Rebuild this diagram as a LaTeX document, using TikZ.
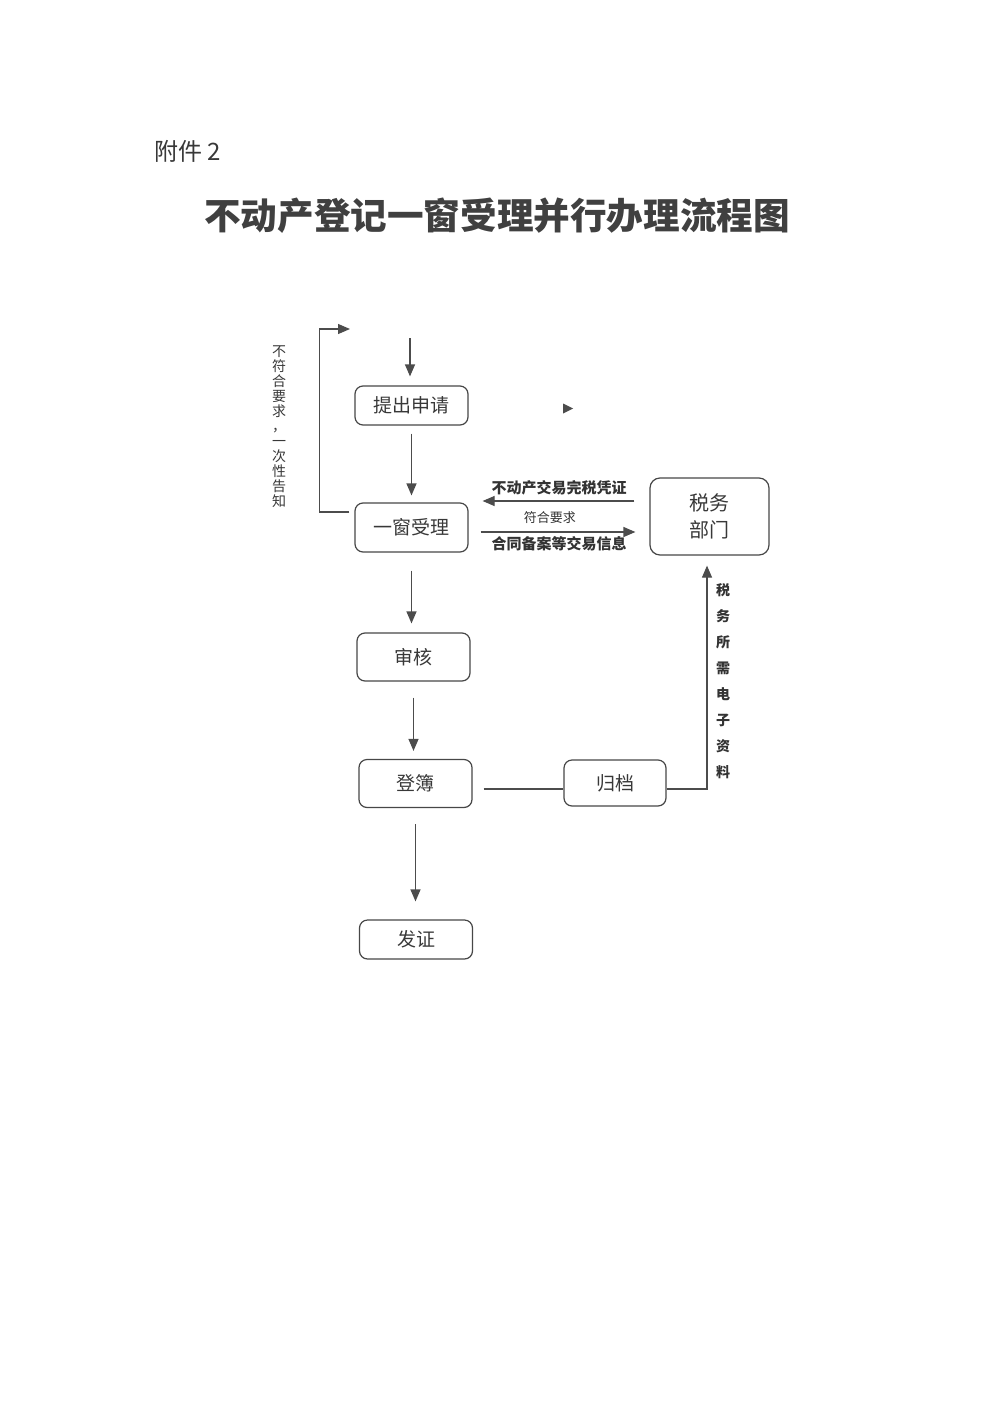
\documentclass[tikz,border=0pt]{standalone}
\usepackage{fontspec}
\newfontfamily\cjk{Noto Sans CJK SC}
\usetikzlibrary{positioning,arrows.meta}

\begin{document}
\begin{tikzpicture}[x=0.5pt,y=-0.5pt]
\tikzset{B/.style={draw=black!72,rounded corners=4pt,line width=0.6pt,text=black!78,font=\cjk\fontsize{9.5}{11}\selectfont,minimum width=56.5pt,minimum height=24pt,inner sep=0pt}}
\tikzset{A/.style={draw=black!70,line width=0.6pt,-{Triangle[length=6pt,width=5pt]}}}
\tikzset{L/.style={text=black!80,font=\cjk\bfseries\fontsize{7.5}{9}\selectfont,inner sep=1pt}}

 \useasboundingbox (0,0) rectangle (992,1402);

  \node[anchor=west,text=black!78,font=\cjk\fontsize{12}{14}\selectfont] (fj) at (147,151) {附件 2};
  \node[text=black!75,font=\cjk\bfseries\fontsize{18.3}{22}\selectfont] (tt) at (497,216) {不动产登记一窗受理并行办理流程图};

  \node[B,minimum height=19.5pt] (sq) at (411.5,405.5) {提出申请};
  \node[B,minimum height=24.5pt] (sl) at (411.5,527.5) {一窗受理};
  \node[B] (sh) at (413.5,657) {审核};
  \node[B] (db) at (415.5,783.5) {登簿};
  \node[B,minimum height=19.5pt] (fz) at (416,939.5) {发证};
  \node[B,minimum width=51pt,minimum height=23pt] (gd) at (615,783) {归档};
  \node[B,rounded corners=5pt,minimum width=59.5pt,minimum height=38.5pt,align=center,
        font=\cjk\fontsize{10}{13.5}\selectfont] (sw) at (709.5,516.5) {税务\\部门};

  \coordinate (c0) at (350,329);
  \coordinate (c1) at (410,338);

  % left loop
  \draw[A,shorten <=2.5pt] ([yshift=7.75pt]sl.west) -- ++(-35,0) |- (c0);
  \node[text=black!78,align=center,font=\cjk\fontsize{7}{7.5}\selectfont] (bf) at (279,427)
    {不\\符\\合\\要\\求\\，\\一\\次\\性\\告\\知};

  % main line
  \draw[A,shorten >=4.5pt] (c1) -- (c1 |- sq.north);
  \draw[A,shorten <=4pt,shorten >=3.5pt] (sq.south) -- (sl.north);
  \draw[A,shorten <=9pt,shorten >=4.5pt] (sl.south) -- (sl.south |- sh.north);
  \draw[A,shorten <=8pt,shorten >=4pt] (sh.south) -- (sh.south |- db.north);
  \draw[A,shorten <=8pt,shorten >=9pt] (db.south) -- (db.south |- fz.north);

  \fill[black!70] (563,403.5) -- (573,408.5) -- (563,413.5) -- cycle;

  % tax office
  \draw[A,shorten <=7.5pt,shorten >=7pt] ([yshift=7.75pt]sw.west) -- ([yshift=7.75pt]sw.west -| sl.east)
    node[L,midway,above=1.5pt] (t1) {不动产交易完税凭证};
  \draw[A,shorten <=6pt,shorten >=7pt] ([yshift=-2.25pt]sl.east) -- ([yshift=-2.25pt]sl.east -| sw.west)
    node[L,pos=.45,above=3pt,font=\cjk\fontsize{6.5}{8}\selectfont] (t2) {符合要求}
    node[L,midway,below=1pt] (t3) {合同备案等交易信息};

  \draw[draw=black!70,line width=0.6pt,shorten <=5.5pt] ([yshift=-2.75pt]db.east) -- ([yshift=-2.75pt]db.east -| gd.west);
  \draw[A,shorten >=5pt] ([yshift=-3pt]gd.east) -| ([xshift=-1.25pt]sw.south);
  \node[L,align=center,font=\cjk\bfseries\fontsize{7}{13}\selectfont] (zl) at (723,681)
    {税\\务\\所\\需\\电\\子\\资\\料};
\end{tikzpicture}
\end{document}
